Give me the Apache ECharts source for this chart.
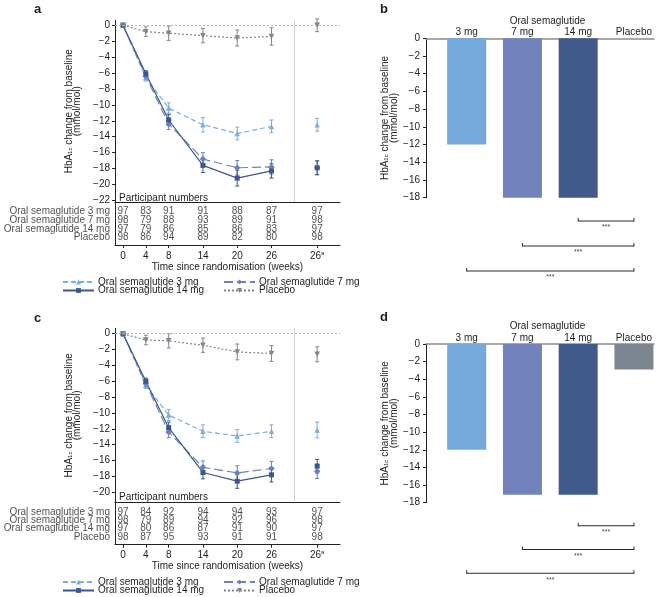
<!DOCTYPE html>
<html><head><meta charset="utf-8">
<script src="https://cdn.jsdelivr.net/npm/echarts@6.0.0/dist/echarts.min.js"></script>
<style>html,body{margin:0;padding:0;background:#fff}#chart{width:669px;height:597px}</style>
</head><body><div id="chart"></div>
<script>
// ---------- DATA ----------
const weeks = [0, 4, 8, 14, 20, 26];
const extraWeekPos = 34;          // column position of "26ᵃ"
const gapWeekPos = 30;            // separator position
const seriesNames = ['Oral semaglutide 3 mg', 'Oral semaglutide 7 mg', 'Oral semaglutide 14 mg', 'Placebo'];
const tableRowNames = ['Oral semaglutide 3 mg', 'Oral semaglutide 7 mg', 'Oral semaglutide 14 mg', 'Placebo'];

// Panel a (weeks 0,4,8,14,20,26 then 26ᵃ)
const a_3mg  = [0, -6.6, -10.4, -12.5, -13.6, -12.7, -12.5];
const a_7mg  = [0, -6.4, -12.4, -16.8, -17.9, -17.8, -17.9];
const a_14mg = [0, -6.1, -11.9, -17.6, -19.2, -18.3, -17.9];
const a_pbo  = [0, -0.8, -1.0, -1.3, -1.6, -1.4, 0];
const a_3mgErr  = [0, 0.4, 0.65, 0.9, 0.8, 0.8, 0.8];
const a_7mgErr  = [0, 0.4, 0.7, 0.8, 0.9, 0.9, 0.9];
const a_14mgErr = [0, 0.4, 0.7, 0.9, 1.0, 0.9, 0.85];
const a_pboErr  = [0, 0.6, 0.9, 0.9, 1.0, 1.1, 0.8];
const a_n3  = [97, 83, 91, 91, 88, 87, 97];
const a_n7  = [98, 79, 88, 93, 89, 91, 98];
const a_n14 = [97, 79, 86, 85, 86, 83, 97];
const a_nP  = [98, 86, 94, 89, 82, 80, 98];

// Panel c
const c_3mg  = [0, -6.5, -10.25, -12.3, -12.9, -12.3, -12.15];
const c_7mg  = [0, -6.3, -12.4, -16.85, -17.55, -17.0, -17.35];
const c_14mg = [0, -6.0, -11.85, -17.5, -18.6, -17.8, -16.7];
const c_pbo  = [0, -0.8, -0.9, -1.45, -2.3, -2.5, -2.6];
const c_3mgErr  = [0, 0.4, 0.7, 0.8, 0.8, 0.8, 1.0];
const c_7mgErr  = [0, 0.4, 0.7, 0.8, 0.9, 0.9, 0.9];
const c_14mgErr = [0, 0.4, 0.7, 0.8, 0.9, 0.9, 0.85];
const c_pboErr  = [0, 0.6, 0.9, 0.9, 1.0, 1.0, 0.95];
const c_n3  = [97, 84, 92, 94, 94, 93, 97];
const c_n7  = [98, 79, 89, 94, 92, 96, 98];
const c_n14 = [97, 80, 86, 87, 91, 90, 97];
const c_nP  = [98, 87, 95, 93, 91, 91, 98];

// Bar panels
const barCategories = ['3 mg', '7 mg', '14 mg', 'Placebo'];
const b_values = [-12, -18, -18, 0];
const d_values = [-12, -17.1, -17.1, -2.9];
const comparisons = [[3, 4, 1], [2, 4, 2], [1, 4, 3]]; // from bar, to bar, row
const yTicksA = [0, -2, -4, -6, -8, -10, -12, -14, -16, -18, -20, -22];
const yTicksC = [0, -2, -4, -6, -8, -10, -12, -14, -16, -18, -20];

// ---------- STYLE ----------
const FONT = 'Liberation Sans, Arial, Helvetica, sans-serif';
const TXT = '#1e1e1e';
const lineColors = ['#7aade0', '#6d7fc0', '#3b5690', '#7e878f'];
const barColors = ['#75a9db', '#7182bd', '#3f5a8b', '#7b8690'];
const symbols = ['triangle', 'diamond', 'rect', 'triangle'];
const symbolRot = [0, 0, 0, 180];
const symbolSizes = [5.5, 6.5, 5, 5.5];
const dashes = [[5, 3], [9, 4], 'solid', [2, 2]];
const minus = v => String(v).replace('-', '\u2212');
const yName = '{n|HbA}{s|1c}{n| change from baseline}\n{m|(mmol/mol)}';
const yNameRich = {
  n: {fontSize: 10, fontFamily: FONT, color: TXT, lineHeight: 9, verticalAlign: 'top'},
  s: {fontSize: 6, fontFamily: FONT, color: TXT, lineHeight: 9, verticalAlign: 'bottom'},
  m: {fontSize: 10, fontFamily: FONT, color: TXT, lineHeight: 9}
};
const XMIN = -1.4, XMAX = 38;

const grids = [], xAxes = [], yAxes = [], series = [], legends = [];

function errRender(params, api) {
  const x = api.value(0), y = api.value(1), e = api.value(2);
  if (!e) return null;
  const t = api.coord([x, y + e]), b = api.coord([x, y - e]);
  const st = {stroke: api.visual('color'), lineWidth: 1};
  return {type: 'group', children: [
    {type: 'line', shape: {x1: t[0], y1: t[1], x2: b[0], y2: b[1]}, style: st},
    {type: 'line', shape: {x1: t[0] - 2, y1: t[1], x2: t[0] + 2, y2: t[1]}, style: st},
    {type: 'line', shape: {x1: b[0] - 2, y1: b[1], x2: b[0] + 2, y2: b[1]}, style: st}
  ]};
}

function bracketRender(params, api) {
  const a = api.coord([api.value(0), api.value(2)]);
  const b = api.coord([api.value(1), api.value(2)]);
  const st = {stroke: '#2a2a2a', lineWidth: 1};
  return {type: 'group', children: [
    {type: 'line', shape: {x1: a[0], y1: a[1], x2: b[0], y2: b[1]}, style: st},
    {type: 'line', shape: {x1: a[0], y1: a[1] - 3, x2: a[0], y2: a[1] + 0.5}, style: st},
    {type: 'line', shape: {x1: b[0], y1: b[1] - 3, x2: b[0], y2: b[1] + 0.5}, style: st},
    {type: 'text', x: (a[0] + b[0]) / 2, y: a[1] + 6.5,
     style: {text: '***', fill: '#444', fontSize: 7, fontFamily: FONT, align: 'center', verticalAlign: 'middle'}}
  ]};
}

function linePanel(cfg) {
  const gi = grids.length;
  grids.push({left: 115, top: cfg.top, width: 225, height: cfg.height});
  grids.push({left: 115, top: cfg.top + cfg.height, width: 225, height: cfg.tableH});
  const axisLine = {show: true, onZero: false, lineStyle: {color: '#222', width: 1}};
  xAxes.push({gridIndex: gi, type: 'value', min: XMIN, max: XMAX, axisLine,
    axisTick: {show: false}, axisLabel: {show: false}, splitLine: {show: false}});
  yAxes.push({gridIndex: gi, type: 'value', min: cfg.ymin, max: cfg.ymax, axisLine,
    axisTick: {show: true, length: 3, customValues: cfg.ticks, lineStyle: {color: '#222'}},
    axisLabel: {customValues: cfg.ticks, formatter: minus, margin: 5, fontSize: 10, fontFamily: FONT, color: TXT},
    splitLine: {show: false},
    name: yName, nameLocation: 'middle', nameGap: 33, nameRotate: 90,
    nameTextStyle: {rich: yNameRich, align: 'center'}});
  const cols = weeks.concat([extraWeekPos]);
  xAxes.push({gridIndex: gi + 1, type: 'value', min: XMIN, max: XMAX, axisLine,
    axisTick: {show: true, length: 3, customValues: cols, lineStyle: {color: '#222'}},
    axisLabel: {customValues: cols, margin: 5, showMinLabel: true, showMaxLabel: true,
      formatter: v => v === extraWeekPos ? '{n|26}{s|a}' : '{n|' + v + '}',
      rich: {n: {fontSize: 10, fontFamily: FONT, color: TXT, lineHeight: 11, verticalAlign: 'bottom'},
             s: {fontSize: 6, fontFamily: FONT, color: TXT, lineHeight: 11, verticalAlign: 'top'}}},
    splitLine: {show: false},
    name: 'Time since randomisation (weeks)', nameLocation: 'middle', nameGap: 15,
    nameTextStyle: {fontSize: 10, fontFamily: FONT, color: TXT, verticalAlign: 'top'}});
  yAxes.push({gridIndex: gi + 1, type: 'value', inverse: true, min: -0.13, max: 4.9, axisLine,
    axisTick: {show: false}, axisLabel: {show: false}, splitLine: {show: false}});

  cfg.vals.forEach((vals, k) => {
    const data = weeks.map((w, i) => [w, vals[i]]);
    data.push([gapWeekPos, '-']);
    data.push([extraWeekPos, vals[6]]);
    const s = {
      name: seriesNames[k], type: 'line', xAxisIndex: gi, yAxisIndex: gi, data,
      symbol: symbols[k], symbolRotate: symbolRot[k], symbolSize: symbolSizes[k],
      connectNulls: false, z: 4, animation: false,
      itemStyle: {color: lineColors[k]},
      lineStyle: {color: lineColors[k], width: 1.2, type: dashes[k]}
    };
    if (k === 3) {
      s.markLine = {silent: true, symbol: 'none', label: {show: false}, animation: false,
        data: [
          {yAxis: 0, lineStyle: {color: '#b5b5b5', type: [2, 2], width: 1}},
          {xAxis: gapWeekPos, lineStyle: {color: '#d4d4d4', type: 'solid', width: 1}}
        ]};
    }
    series.push(s);
    const edata = cols.map((w, i) => [w, vals[i], cfg.errs[k][i]]);
    series.push({type: 'custom', xAxisIndex: gi, yAxisIndex: gi, renderItem: errRender, data: edata,
      itemStyle: {color: lineColors[k]}, z: 3, animation: false, silent: true});
  });

  // participant number table
  const tdata = [];
  cfg.counts.forEach((row, r) => row.forEach((n, i) => tdata.push([cols[i], r + 1, n])));
  series.push({type: 'scatter', xAxisIndex: gi + 1, yAxisIndex: gi + 1, data: tdata, symbolSize: 1,
    itemStyle: {color: 'rgba(0,0,0,0)'}, silent: true, animation: false,
    label: {show: true, position: 'inside', formatter: p => String(p.value[2]),
      fontSize: 10, fontFamily: FONT, color: TXT}});
  // row labels of the table
  series.push({type: 'scatter', xAxisIndex: gi + 1, yAxisIndex: gi + 1, clip: false,
    data: tableRowNames.map((nm, r) => [XMIN, r + 1, nm]), symbolSize: 1,
    itemStyle: {color: 'rgba(0,0,0,0)'}, silent: true, animation: false,
    label: {show: true, position: 'left', distance: 4.5, formatter: p => p.value[2],
      fontSize: 10, fontFamily: FONT, color: TXT}});

  const lt = cfg.legendTop;
  const lpos = [[62, lt], [223, lt], [62, lt + 8.5], [223, lt + 8.5]];
  seriesNames.forEach((nm, k) => legends.push({
    data: [nm], left: lpos[k][0], top: lpos[k][1], padding: 0, itemWidth: 31, itemHeight: 6, itemGap: 4,
    selectedMode: false,
    textStyle: {fontSize: 10, fontFamily: FONT, color: TXT, padding: [0, 0, 0, -1]}
  }));
}

function barPanel(cfg) {
  const gi = grids.length;
  grids.push({left: 426, top: cfg.top, width: 228, height: cfg.height});
  grids.push({left: 426, top: cfg.brTop, width: 228, height: cfg.brH});
  xAxes.push({gridIndex: gi, type: 'value', min: 0.27, max: 4.36, position: 'top',
    axisLine: {show: true, onZero: false, lineStyle: {color: '#8c8c8c', width: 1.5}},
    axisTick: {show: false},
    axisLabel: {customValues: [1, 2, 3, 4], formatter: v => barCategories[v - 1] || '', margin: 1,
      showMinLabel: true, showMaxLabel: true,
      fontSize: 10, fontFamily: FONT, color: TXT},
    splitLine: {show: false}});
  yAxes.push({gridIndex: gi, type: 'value', min: -18, max: 0, interval: 2,
    axisLine: {show: true, onZero: false, lineStyle: {color: '#222'}},
    axisTick: {show: true, length: 3, lineStyle: {color: '#222'}},
    axisLabel: {formatter: minus, margin: 6, fontSize: 10, fontFamily: FONT, color: TXT},
    splitLine: {show: false},
    name: yName, nameLocation: 'middle', nameGap: 27, nameRotate: 90,
    nameTextStyle: {rich: yNameRich, align: 'center'}});
  xAxes.push({gridIndex: gi + 1, type: 'value', min: 0.27, max: 4.36, show: false});
  yAxes.push({gridIndex: gi + 1, type: 'value', min: 0, max: 4, inverse: true, show: false});
  series.push({type: 'bar', xAxisIndex: gi, yAxisIndex: gi, barWidth: 39, animation: false, silent: true,
    data: cfg.values.map((v, i) => ({value: [i + 1, v], itemStyle: {color: barColors[i]}}))});
  series.push({type: 'custom', xAxisIndex: gi + 1, yAxisIndex: gi + 1, renderItem: bracketRender,
    data: comparisons, animation: false, silent: true});
}

linePanel({top: 20.5, height: 181.5, tableH: 43, ymin: -22.2, ymax: 0.6, ticks: yTicksA,
  vals: [a_3mg, a_7mg, a_14mg, a_pbo], errs: [a_3mgErr, a_7mgErr, a_14mgErr, a_pboErr],
  counts: [a_n3, a_n7, a_n14, a_nP], legendTop: 277});
barPanel({top: 38.3, height: 159.4, brTop: 196, brH: 100, values: b_values});
linePanel({top: 328.3, height: 174, tableH: 42.4, ymin: -21.26, ymax: 0.68, ticks: yTicksC,
  vals: [c_3mg, c_7mg, c_14mg, c_pbo], errs: [c_3mgErr, c_7mgErr, c_14mgErr, c_pboErr],
  counts: [c_n3, c_n7, c_n14, c_nP], legendTop: 577});
barPanel({top: 344, height: 158.7, brTop: 502, brH: 99, values: d_values});

const txt = (text, x, y, extra) => ({type: 'text', x, y, silent: true,
  style: Object.assign({text, fontSize: 10, fontFamily: FONT, fill: TXT, verticalAlign: 'middle'}, extra || {})});
const graphic = [
  txt('a', 34, 9, {fontSize: 13, fontWeight: 'bold'}),
  txt('b', 380, 9, {fontSize: 13, fontWeight: 'bold'}),
  txt('c', 34, 318, {fontSize: 13, fontWeight: 'bold'}),
  txt('d', 380, 317, {fontSize: 13, fontWeight: 'bold'}),
  txt('Participant numbers', 119, 198),
  txt('Participant numbers', 119, 497),
  txt('Oral semaglutide', 547.5, 21, {align: 'center'}),
  txt('Oral semaglutide', 547.5, 326.5, {align: 'center'})
];

const chart = echarts.init(document.getElementById('chart'), null, {renderer: 'canvas'});
chart.setOption({
  animation: false,
  backgroundColor: '#fff',
  textStyle: {fontFamily: FONT},
  grid: grids, xAxis: xAxes, yAxis: yAxes, series, legend: legends, graphic
});
</script></body></html>
